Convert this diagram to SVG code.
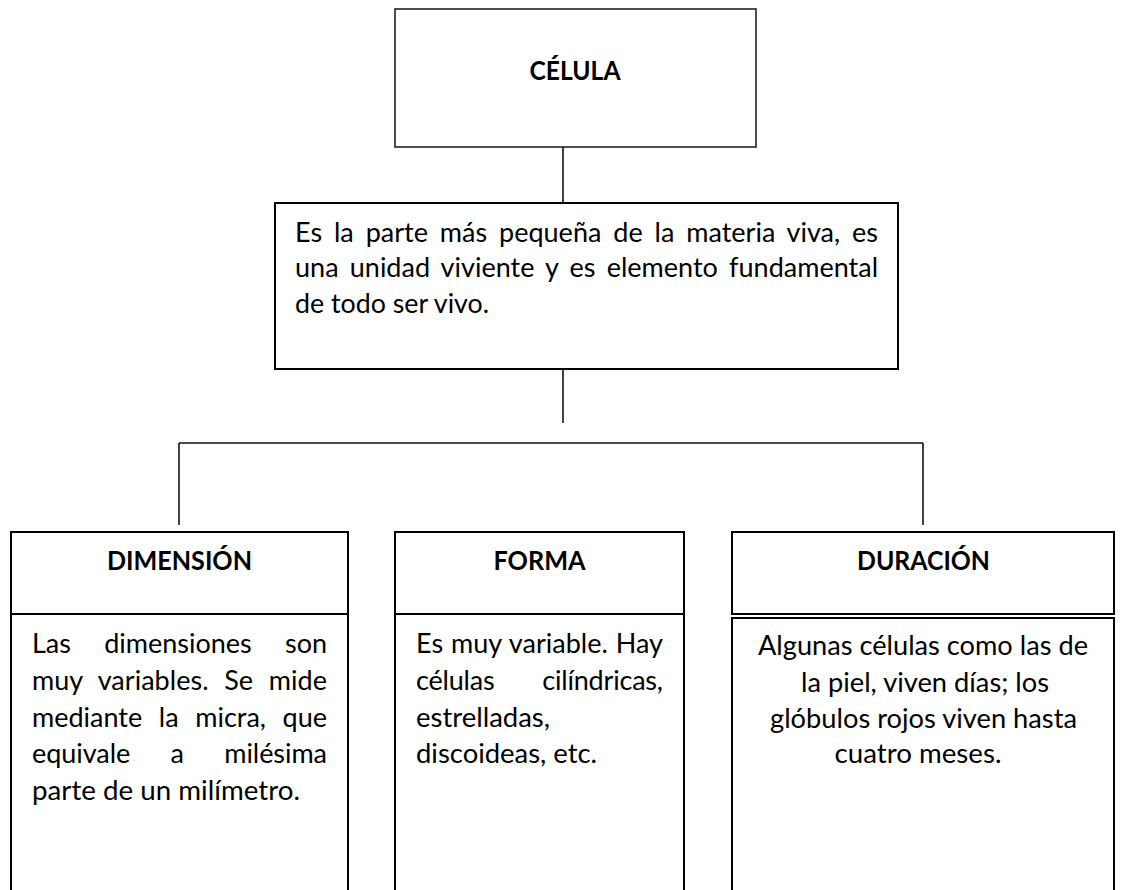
<svg xmlns="http://www.w3.org/2000/svg" width="1123" height="890" viewBox="0 0 1123 890">
<style>
.box{fill:#fff;stroke:#000;stroke-width:2}
.thin{fill:#fff;stroke:#222;stroke-width:1.6}
.conn line{stroke:#111;stroke-width:1.6}
.t{font-family:Lato,'Open Sans',sans-serif;font-size:27px;fill:#000}
.h{font-family:Lato,'Open Sans',sans-serif;font-size:26px;font-weight:bold;fill:#000}
.c{text-anchor:middle}
</style>
<rect width="1123" height="890" fill="#fff"/>
<g id="connectors" class="conn">
<line x1="563" y1="147" x2="563" y2="203"/>
<line x1="563" y1="369" x2="563" y2="423"/>
<line x1="179" y1="443" x2="923" y2="443"/>
<line x1="179" y1="443" x2="179" y2="525"/>
<line x1="923" y1="443" x2="923" y2="525"/>
</g>
<g id="celula">
<rect class="thin" x="395" y="9" width="361" height="138"/>
<text class="h c" x="575" y="80" textLength="91" lengthAdjust="spacingAndGlyphs">CÉLULA</text>
</g>
<g id="definicion">
<rect class="box" x="275" y="203" width="623" height="166" stroke-width="2.5"/>
<text class="t" x="295" y="242" word-spacing="5" textLength="583" lengthAdjust="spacing">Es la parte más pequeña de la materia viva, es</text>
<text class="t" x="295" y="277" word-spacing="4.3" textLength="583" lengthAdjust="spacing">una unidad viviente y es elemento fundamental</text>
<text class="t" x="295" y="313" textLength="194" lengthAdjust="spacingAndGlyphs">de todo ser vivo.</text>
</g>
<g id="dimension">
<rect class="box" x="11" y="532" width="337" height="82"/>
<rect class="box" x="11" y="614" width="337" height="290"/>
<text class="h c" x="179.5" y="570" textLength="145" lengthAdjust="spacingAndGlyphs">DIMENSIÓN</text>
<text class="t" x="32" y="653" word-spacing="26.5" textLength="295" lengthAdjust="spacing">Las dimensiones son</text>
<text class="t" x="32" y="690" word-spacing="8.7" textLength="295" lengthAdjust="spacing">muy variables. Se mide</text>
<text class="t" x="32" y="727" word-spacing="9.7" textLength="295" lengthAdjust="spacing">mediante la micra, que</text>
<text class="t" x="32" y="763" word-spacing="33.5" textLength="295" lengthAdjust="spacing">equivale a milésima</text>
<text class="t" x="32" y="800" textLength="268" lengthAdjust="spacingAndGlyphs">parte de un milímetro.</text>
</g>
<g id="forma">
<rect class="box" x="395" y="532" width="289" height="82"/>
<rect class="box" x="395" y="614" width="289" height="290"/>
<text class="h c" x="539.5" y="570" textLength="92" lengthAdjust="spacingAndGlyphs">FORMA</text>
<text class="t" x="416" y="653" word-spacing="1" textLength="247" lengthAdjust="spacing">Es muy variable. Hay</text>
<text class="t" x="416" y="690" word-spacing="41" textLength="247" lengthAdjust="spacing">células cilíndricas,</text>
<text class="t" x="416" y="727" textLength="134" lengthAdjust="spacingAndGlyphs">estrelladas,</text>
<text class="t" x="416" y="763" textLength="181" lengthAdjust="spacingAndGlyphs">discoideas, etc.</text>
</g>
<g id="duracion">
<rect class="box" x="732" y="532" width="382" height="82"/>
<rect class="box" x="732" y="618" width="382" height="290"/>
<text class="h c" x="923.5" y="570" textLength="133" lengthAdjust="spacingAndGlyphs">DURACIÓN</text>
<text class="t c" x="923" y="655" textLength="330" lengthAdjust="spacingAndGlyphs">Algunas células como las de</text>
<text class="t c" x="925" y="692" textLength="248" lengthAdjust="spacingAndGlyphs">la piel, viven días; los</text>
<text class="t c" x="923.5" y="728" textLength="307" lengthAdjust="spacingAndGlyphs">glóbulos rojos viven hasta</text>
<text class="t c" x="918" y="763" textLength="167" lengthAdjust="spacingAndGlyphs">cuatro meses.</text>
</g>
</svg>
